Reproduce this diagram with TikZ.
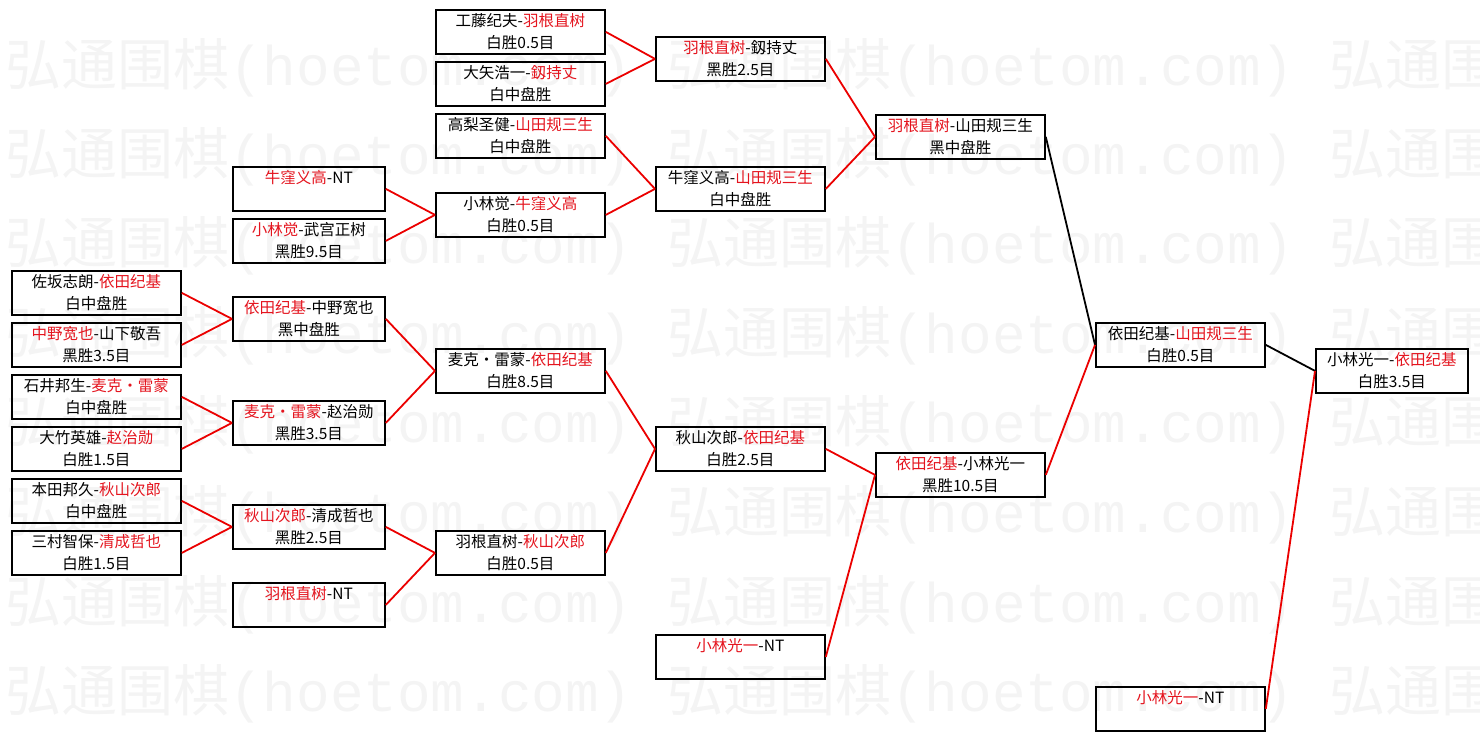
\documentclass[tikz,border=0pt]{standalone}
\usepackage{fontspec}
\setmainfont{Noto Sans CJK SC}
\newfontfamily\wmlatin{Liberation Mono}
\usepackage{tikz}
\definecolor{winred}{RGB}{228, 20, 30}
\definecolor{linkred}{RGB}{235, 0, 0}
\definecolor{wmgray}{RGB}{244, 244, 244}
\newcommand{\win}[1]{\textcolor{winred}{#1}}

\tikzset{
  matchbox/.style={draw=black, line width=1.8pt, anchor=north west, minimum width=169pt,
    minimum height=44pt, inner sep=0pt, align=center, font=\fontsize{15.5}{22}\selectfont},
  narrowbox/.style={matchbox, minimum width=152pt},
  redlink/.style={draw=linkred, line width=1.8pt},
  blacklink/.style={draw=black, line width=1.8pt},
  watermark/.style={anchor=west, text=wmgray, inner sep=0pt, font=\fontsize{56}{60}\selectfont}
}

\begin{document}
\begin{tikzpicture}[x=1pt, y=-1pt]
  \useasboundingbox (0,0) rectangle (1480,741);

  % background watermark
  \begin{scope}
    \clip (0,0) rectangle (1480,741);
    \foreach \row in {68,157,246,336,425,515,605,694}
      \foreach \col [count=\k] in {5,667,1329}
        \node[watermark] (wm-\k-\row) at (\col,\row) {弘通围棋{\wmlatin(hoetom.com)}};
  \end{scope}

  % first round
  \node[matchbox] (a1) at (11,270) {佐坂志朗-\win{依田纪基}\\白中盘胜};
  \node[matchbox] (a2) at (11,322) {\win{中野宽也}-山下敬吾\\黑胜3.5目};
  \node[matchbox] (a3) at (11,374) {石井邦生-\win{麦克・雷蒙}\\白中盘胜};
  \node[matchbox] (a4) at (11,426) {大竹英雄-\win{赵治勋}\\白胜1.5目};
  \node[matchbox] (a5) at (11,478) {本田邦久-\win{秋山次郎}\\白中盘胜};
  \node[matchbox] (a6) at (11,530) {三村智保-\win{清成哲也}\\白胜1.5目};

  % second round
  \node[narrowbox] (b1) at (232,166) {\win{牛窪义高}-NT\\\phantom{白}};
  \node[narrowbox] (b2) at (232,218) {\win{小林觉}-武宫正树\\黑胜9.5目};
  \node[narrowbox] (b3) at (232,296) {\win{依田纪基}-中野宽也\\黑中盘胜};
  \node[narrowbox] (b4) at (232,400) {\win{麦克・雷蒙}-赵治勋\\黑胜3.5目};
  \node[narrowbox] (b5) at (232,504) {\win{秋山次郎}-清成哲也\\黑胜2.5目};
  \node[narrowbox] (b6) at (232,582) {\win{羽根直树}-NT\\\phantom{白}};

  % third round
  \node[matchbox] (c1) at (435,9) {工藤纪夫-\win{羽根直树}\\白胜0.5目};
  \node[matchbox] (c2) at (435,61) {大矢浩一-\win{釼持丈}\\白中盘胜};
  \node[matchbox] (c3) at (435,113) {高梨圣健-\win{山田规三生}\\白中盘胜};
  \node[matchbox] (c4) at (435,192) {小林觉-\win{牛窪义高}\\白胜0.5目};
  \node[matchbox] (c5) at (435,348) {麦克・雷蒙-\win{依田纪基}\\白胜8.5目};
  \node[matchbox] (c6) at (435,530) {羽根直树-\win{秋山次郎}\\白胜0.5目};

  % fourth round
  \node[matchbox] (d1) at (655,36) {\win{羽根直树}-釼持丈\\黑胜2.5目};
  \node[matchbox] (d2) at (655,166) {牛窪义高-\win{山田规三生}\\白中盘胜};
  \node[matchbox] (d3) at (655,426) {秋山次郎-\win{依田纪基}\\白胜2.5目};
  \node[matchbox] (d4) at (655,634) {\win{小林光一}-NT\\\phantom{白}};

  % fifth round and final
  \node[matchbox] (e1) at (875,114) {\win{羽根直树}-山田规三生\\黑中盘胜};
  \node[matchbox] (e2) at (875,452) {\win{依田纪基}-小林光一\\黑胜10.5目};
  \node[matchbox] (f1) at (1095,322) {依田纪基-\win{山田规三生}\\白胜0.5目};
  \node[matchbox] (f2) at (1095,686) {\win{小林光一}-NT\\\phantom{白}};
  \node[narrowbox] (g1) at (1315,348) {小林光一-\win{依田纪基}\\白胜3.5目};

  % links
  \draw[redlink] (a1.east) -- (b3.west);
  \draw[redlink] (a2.east) -- (b3.west);
  \draw[redlink] (a3.east) -- (b4.west);
  \draw[redlink] (a4.east) -- (b4.west);
  \draw[redlink] (a5.east) -- (b5.west);
  \draw[redlink] (a6.east) -- (b5.west);
  \draw[redlink] (b1.east) -- (c4.west);
  \draw[redlink] (b2.east) -- (c4.west);
  \draw[redlink] (b3.east) -- (c5.west);
  \draw[redlink] (b4.east) -- (c5.west);
  \draw[redlink] (b5.east) -- (c6.west);
  \draw[redlink] (b6.east) -- (c6.west);
  \draw[redlink] (c1.east) -- (d1.west);
  \draw[redlink] (c2.east) -- (d1.west);
  \draw[redlink] (c3.east) -- (d2.west);
  \draw[redlink] (c4.east) -- (d2.west);
  \draw[redlink] (c5.east) -- (d3.west);
  \draw[redlink] (c6.east) -- (d3.west);
  \draw[redlink] (d1.east) -- (e1.west);
  \draw[redlink] (d2.east) -- (e1.west);
  \draw[redlink] (d3.east) -- (e2.west);
  \draw[redlink] (d4.east) -- (e2.west);
  \draw[blacklink] (e1.east) -- (f1.west);
  \draw[redlink] (e2.east) -- (f1.west);
  \draw[blacklink] (f1.east) -- (g1.west);
  \draw[redlink] (f2.east) -- (g1.west);
\end{tikzpicture}
\end{document}
